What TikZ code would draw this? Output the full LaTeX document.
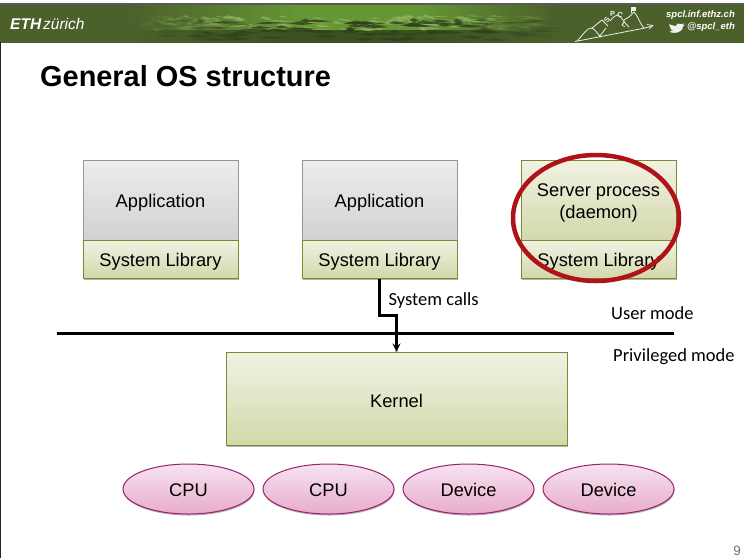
\documentclass[tikz,border=0pt]{standalone}
\usepackage{fontspec}
\setmainfont{Liberation Sans}
\newfontfamily\calibrifont{Carlito}
\usetikzlibrary{shadows,shapes.geometric,arrows.meta}
\definecolor{hdr}{HTML}{4C602B}
\definecolor{hdrlight}{HTML}{659634}
\definecolor{hdrpale}{HTML}{8FB565}
\definecolor{hdrdark}{HTML}{3C4F22}
\definecolor{oliveline}{HTML}{7A8A2C}
\definecolor{greyline}{HTML}{969696}
\definecolor{magline}{HTML}{99206E}
\definecolor{redring}{HTML}{B0121A}
\definecolor{olivetop}{HTML}{F1F2E3}
\definecolor{olivebot}{HTML}{D3D8AB}
\definecolor{pinktop}{HTML}{F6E3F0}
\definecolor{pinkbot}{HTML}{E8ACCB}
\newcommand\dn[2][2.5pt]{\raisebox{-#1}[\height][\depth]{#2}}
\tikzset{
  softshadow/.style={drop shadow={shadow xshift=0.5pt,shadow yshift=-1.5pt,opacity=.3,fill=black}},
  boxtext/.style={font=\fontsize{18.3}{20}\selectfont,inner sep=0pt,align=center},
  appbox/.style={boxtext,draw=greyline,line width=1pt,top color=white!93!black,bottom color=black!18,minimum width=155pt,minimum height=80pt,softshadow},
  srvbox/.style={appbox,draw=oliveline,top color=olivetop,bottom color=olivebot},
  libbox/.style={boxtext,draw=oliveline,line width=1pt,top color=olivetop,bottom color=olivebot,minimum width=155pt,minimum height=38pt,softshadow},
  kernelbox/.style={boxtext,draw=oliveline,line width=1pt,top color=olivetop,bottom color=olivebot,minimum width=341pt,minimum height=93pt,softshadow},
  hwell/.style={boxtext,ellipse,draw=magline,line width=1pt,top color=pinktop,bottom color=pinkbot,minimum width=131pt,minimum height=50pt,softshadow},
  modelabel/.style={font=\calibrifont\fontsize{18.5}{20}\selectfont,inner sep=0pt,anchor=west},
  headtext/.style={text=white,font=\fontsize{9.5}{11}\selectfont\bfseries\itshape,inner sep=0pt,anchor=east},
  logoline/.style={draw=white!90!hdr,line width=.8pt,line join=round},
  logoletter/.style={text=white!90!hdr,font=\fontsize{7.5}{8}\selectfont\bfseries,inner sep=0pt},
  lineshadow/.style={draw=black!25,xshift=0.6pt,yshift=-1.4pt}
}
\begin{document}
\begin{tikzpicture}[x=1pt,y=-1pt]
\useasboundingbox (0,0) rectangle (744,558);
\fill[white] (0,0) rectangle (744,558);
% header
\fill[black!65] (0,3) rectangle (744,5);
\fill[hdr] (0,5) rectangle (744,42.5);
\begin{scope}
\clip (0,5) rectangle (744,42.5);
\shade[left color=hdr,right color=hdrlight] (130,5) rectangle (300,30);
\fill[hdrlight] (300,5) rectangle (420,30);
\shade[left color=hdrlight,right color=hdr] (420,5) rectangle (556,30);
\shade[left color=hdr,right color=hdrdark] (130,30) rectangle (300,42.5);
\fill[hdrdark] (300,30) rectangle (420,42.5);
\shade[left color=hdrdark,right color=hdr] (420,30) rectangle (556,42.5);
\pgfmathsetseed{77}
\foreach \i in {1,...,170}{
  \pgfmathsetmacro{\px}{140+rnd*400}
  \pgfmathsetmacro{\py}{16+rnd*14}
  \pgfmathsetmacro{\ww}{5+rnd*16}
  \pgfmathsetmacro{\hh}{0.5+rnd*1.8}
  \pgfmathsetmacro{\op}{0.7*min(1,min((\px-130)/120,(556-\px)/120))}
  \fill[hdrpale,opacity=\op] (\px,\py) -- ++(\ww*.3,-\hh) -- ++(\ww*.3,\hh*.7) -- ++(\ww*.4,\hh*.5) -- ++(-\ww*.5,\hh*.5) -- cycle;
}
\foreach \i in {1,...,130}{
  \pgfmathsetmacro{\px}{140+rnd*400}
  \pgfmathsetmacro{\py}{20+rnd*20}
  \pgfmathsetmacro{\ww}{8+rnd*26}
  \pgfmathsetmacro{\hh}{0.6+rnd*2}
  \pgfmathsetmacro{\op}{0.8*min(1,min((\px-130)/120,(556-\px)/120))}
  \fill[hdrdark!80!black,opacity=\op] (\px,\py) -- ++(\ww*.4,-\hh) -- ++(\ww*.6,\hh) -- ++(-\ww*.5,\hh*.6) -- cycle;
}
\end{scope}
\node[inner sep=0pt,anchor=west,text=white] (eth) at (10,24) {\fontsize{15.5}{17}\selectfont\bfseries\itshape ETH\hspace{2pt}\fontseries{m}\selectfont zürich};
% logo
\draw[logoline] (575,41.5) -- (645,28) -- (653,25.5);
\draw[logoline,line width=.7pt] (647,24.5) -- (653,25.5) -- (649,29);
\draw[logoline] (577,41) .. controls (583,35) and (587,28) .. (591,28) .. controls (595,28) and (597,34) .. (601,37);
\draw[logoline] (592,28) -- (602,20) -- (608,26);
\draw[logoline] (599,37) -- (606,28);
\draw[logoline] (610,21) .. controls (613,17) and (616,15) .. (618,15) .. controls (621,16) and (625,24) .. (629,27);
\draw[logoline] (624,20) -- (629,17) -- (634,12) .. controls (637,14) and (640,24) .. (644,28);
\draw[logoline] (631,13) -- (631,7);
\fill[white!90!hdr] (631,7) rectangle (636,10.5);
\node[logoletter,rotate=55] (logos) at (607,20) {S};
\node[logoletter] (logop) at (612.5,13.5) {P};
\node[logoletter,rotate=-20] (logoc) at (620,14.5) {C};
\node[logoletter,rotate=-30] (logol) at (624.5,24) {L};
\node[headtext] (url) at (735,15) {spcl.inf.ethz.ch};
\node[headtext] (tw) at (735,27) {@spcl\_eth};
\begin{scope}[shift={(669,22.7)},xscale=.85,yscale=.75,shift={(-669,-22)}]
\fill[white!92!hdr] (669,24) .. controls (672,25) and (674,26) .. (677,26.5) .. controls (677,23) and (681,22) .. (683,24) .. controls (684.5,24) and (685.5,23.7) .. (686.5,23) .. controls (686,24) and (685.5,25) .. (685,25.5) .. controls (686,25.4) and (686.5,25) .. (687.5,24.8) .. controls (687,25.8) and (686,26.4) .. (685.5,27) .. controls (685.5,32) and (680,36) .. (675,35.5) .. controls (673,35.5) and (671,35) .. (669.5,34) .. controls (671.5,34) and (673,33.5) .. (674.5,32.5) .. controls (672.5,32.5) and (671,31.5) .. (670.5,30) .. controls (671,30) and (672,30) .. (672.5,29.8) .. controls (670.5,29) and (669.5,27.8) .. (669.5,26) .. controls (670,26.3) and (671,26.6) .. (671.5,26.6) .. controls (670,25.8) and (669,25) .. (669,24) -- cycle;
\end{scope}
% frame
\draw[black!85,line width=1pt] (0.5,42) -- (0.5,558);
% title
\node[inner sep=0pt,anchor=west,font=\fontsize{28.9}{32}\selectfont\bfseries] (title) at (40,76) {General OS structure};
% boxes
\node[appbox] (app1) at (160.5,200) {\dn{Application}};
\node[libbox] (lib1) at (160.5,259) {\dn{System Library}};
\node[appbox] (app2) at (379.5,200) {\dn{Application}};
\node[libbox] (lib2) at (379.5,259) {\dn{System Library}};
\node[srvbox] (srv) at (598.5,200) {\dn[3pt]{\shortstack{Server process\\[2pt](daemon)}}};
\node[libbox] (lib3) at (598.5,259) {\dn{System Library}};
\node[kernelbox] (kernel) at (396.5,398.5) {\dn{Kernel}};
% ellipses
\node[hwell] (cpu1) at (188.5,489) {\dn[1pt]{CPU}};
\node[hwell] (cpu2) at (328.5,489) {\dn[1pt]{CPU}};
\node[hwell] (dev1) at (468.5,489) {\dn[1pt]{Device}};
\node[hwell] (dev2) at (608.5,489) {\dn[1pt]{Device}};
% mode line
\coordinate (modeL) at (57,333.5);
\coordinate (modeR) at (674,333.5);
\draw[line width=3pt,lineshadow] (modeL) -- (modeR);
\draw[line width=3pt] (modeL) -- (modeR);
% connector
\draw[line width=2.2pt,lineshadow] (lib2.south) -- ++(0,37) -| (kernel.north);
\draw[line width=2.2pt,-{Stealth[length=8pt,width=8pt,inset=3pt]}] (lib2.south) -- ++(0,37) -| (kernel.north);
\node[modelabel] (syscalls) at (388.5,300.5) {System calls};
\node[modelabel] (usermode) at (611,313) {User mode};
\node[modelabel] (privmode) at (613,356.5) {Privileged mode};
% red ring
\node[ellipse,draw=redring,line width=4.5pt,minimum width=166pt,minimum height=126pt,inner sep=0pt] (ring) at (596,218) {};
% page number
\node[inner sep=0pt,text=black!55,font=\fontsize{13.5}{15}\selectfont] (page) at (737,551) {9};
\end{tikzpicture}
\end{document}
